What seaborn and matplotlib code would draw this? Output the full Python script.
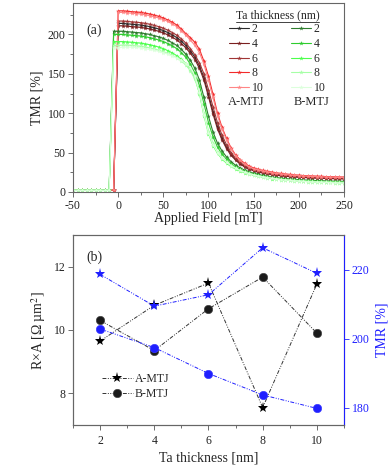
import numpy as np
import pandas as pd
import matplotlib
matplotlib.use("Agg")
import matplotlib.pyplot as plt
import seaborn as sns
from matplotlib.lines import Line2D
from matplotlib.ticker import MultipleLocator

# ---- panel (a): TMR vs applied field ----
field = list(range(-50, 255, 5))

tmr_a2 = [2.6, 2.5, 2.5, 2.4, 2.5, 2.6, 2.5, 2.4, 2.5, 2.5,
          214, 214, 213.5, 213, 212.5, 212, 211, 210, 208.5, 207,
          205, 202.5, 199.5, 196, 191.5, 186, 179, 171, 160, 145,
          124, 102, 83, 68, 57, 48, 41.5, 36.5, 32.5, 29.7,
          27.5, 25.9, 24.6, 23.5, 22.6, 21.8, 21.1, 20.5, 20.0, 19.6,
          19.2, 18.9, 18.6, 18.3, 18.1, 17.9, 17.7, 17.5, 17.4, 17.2, 17.1]
tmr_a4 = [2.5, 2.4, 2.5, 2.6, 2.5, 2.4, 2.5, 2.5, 2.6, 2.5,
          211, 211, 210.5, 210, 209.5, 209, 208, 207, 205.5, 204,
          202, 199.5, 196.5, 193, 188.5, 183, 176, 168, 157, 142,
          121, 99, 80, 66, 55, 46.5, 40.5, 35.5, 31.8, 29,
          27, 25.4, 24.1, 23, 22.1, 21.3, 20.6, 20, 19.5, 19.1,
          18.7, 18.4, 18.1, 17.8, 17.6, 17.4, 17.2, 17, 16.9, 16.7, 16.6]
tmr_a6 = [2.4, 2.5, 2.6, 2.5, 2.4, 2.5, 2.6, 2.5, 2.4, 2.5,
          217, 217, 216.5, 216, 215.5, 215, 214, 213, 211.5, 210,
          208, 205.5, 202.5, 199, 194.5, 189, 182, 174, 164, 150,
          130, 108, 88, 72, 60, 50, 43, 37.5, 33.5, 30.5,
          28.2, 26.6, 25.3, 24.2, 23.3, 22.5, 21.8, 21.2, 20.7, 20.2,
          19.8, 19.5, 19.2, 18.9, 18.7, 18.5, 18.3, 18.1, 17.9, 17.8, 17.6]
tmr_a8 = [2.5, 2.6, 2.5, 2.4, 2.5, 2.5, 2.6, 2.5, 2.4, 2.5,
          230, 230, 229.5, 229, 228.5, 228, 227, 226, 224.5, 223,
          221, 218.5, 215.5, 212, 207, 201, 196, 190, 181, 166,
          147, 124, 100, 82, 68, 56, 47, 41, 36.5, 33,
          30.5, 28.8, 27.4, 26.2, 25.2, 24.3, 23.5, 22.8, 22.2, 21.7,
          21.3, 20.9, 20.6, 20.3, 20.0, 19.8, 19.6, 19.4, 19.2, 19.0, 18.9]
tmr_a10 = [2.5, 2.5, 2.4, 2.5, 2.6, 2.5, 2.4, 2.5, 2.5, 2.6,
           228, 228, 227.5, 227, 226.5, 226, 225, 224, 222.5, 221,
           219, 216.5, 213.5, 210, 205, 199, 193, 186, 177, 162,
           142, 120, 97, 80, 66, 55, 46, 40, 35.5, 32,
           29.7, 28, 26.7, 25.5, 24.5, 23.6, 22.9, 22.2, 21.6, 21.1,
           20.7, 20.3, 20, 19.7, 19.4, 19.2, 19, 18.8, 18.6, 18.4, 18.3]

tmr_b2 = [2.2, 2.1, 2.2, 2.3, 2.2, 2.1, 2.2, 2.2, 2.3,
          204,
          204, 204, 203.5, 203, 202.5, 202, 201, 200, 198.5, 197,
          195, 192.5, 189.5, 186, 181, 175, 167, 157, 142, 120,
          96, 76, 62, 52, 44.5, 38.5, 34, 30.5, 27.8, 25.6,
          23.8, 22.3, 21, 19.9, 19, 18.2, 17.5, 16.9, 16.4, 16,
          15.6, 15.2, 14.9, 14.6, 14.4, 14.2, 14, 13.8, 13.6, 13.5, 13.4]
tmr_b4 = [2.1, 2.2, 2.3, 2.2, 2.1, 2.2, 2.3, 2.2, 2.1,
          200,
          200, 200, 199.5, 199, 198.5, 198, 197, 196, 194.5, 193,
          191, 188.5, 185.5, 182, 177, 171, 162, 151, 135, 112,
          88, 70, 57, 48, 41.5, 36, 32, 28.8, 26.2, 24.2,
          22.5, 21.1, 19.9, 18.9, 18, 17.2, 16.6, 16, 15.5, 15.1,
          14.7, 14.4, 14.1, 13.8, 13.6, 13.4, 13.2, 13, 12.8, 12.7, 12.6]
tmr_b6 = [2.3, 2.2, 2.1, 2.2, 2.3, 2.2, 2.1, 2.2, 2.2,
          191,
          191, 191, 190.5, 190, 189.5, 189, 188, 187, 185.5, 184,
          182, 179.5, 176.5, 173, 168.5, 163, 156, 145, 125, 97,
          74, 59, 49, 42, 36.5, 32.5, 29.2, 26.6, 24.5, 22.8,
          21.3, 20, 18.9, 17.9, 17.1, 16.4, 15.8, 15.2, 14.7, 14.3,
          13.9, 13.6, 13.3, 13, 12.8, 12.6, 12.4, 12.2, 12, 11.9, 11.8]
tmr_b8 = [2.2, 2.3, 2.2, 2.1, 2.2, 2.2, 2.3, 2.2, 2.1,
          186,
          186, 186.5, 186.5, 186, 185.5, 185, 184, 183, 181.5, 180,
          178, 176, 173.5, 170.5, 166.5, 161, 154, 143, 126, 100,
          78, 62, 51, 43.5, 38, 33.8, 30.4, 27.7, 25.5, 23.7,
          22.1, 20.8, 19.6, 18.6, 17.7, 17, 16.3, 15.7, 15.2, 14.8,
          14.4, 14, 13.7, 13.4, 13.2, 13, 12.8, 12.6, 12.4, 12.3, 12.2]
tmr_b10 = [2.2, 2.2, 2.1, 2.2, 2.3, 2.2, 2.2, 2.1, 2.2,
           183,
           183, 184, 184, 184, 183.5, 183, 182, 181, 180, 178.5,
           177, 175, 173, 170, 167, 163, 158, 147, 127, 98,
           75, 60, 50, 43, 37.5, 33.5, 30, 27.3, 25.1, 23.3,
           21.7, 20.4, 19.2, 18.2, 17.3, 16.5, 15.8, 15.2, 14.7, 14.2,
           13.8, 13.4, 13.1, 12.8, 12.5, 12.3, 12.1, 11.9, 11.7, 11.5, 11.4]

curve_names = ["A-2", "A-4", "A-6", "A-8", "A-10", "B-2", "B-4", "B-6", "B-8", "B-10"]
curve_values = [tmr_a2, tmr_a4, tmr_a6, tmr_a8, tmr_a10,
                tmr_b2, tmr_b4, tmr_b6, tmr_b8, tmr_b10]
curve_colors = ["#2b2b2b", "#7a1f1f", "#a03535", "#f22a2a", "#ff8585",
                "#2e7d2e", "#2ecc2e", "#4cff4c", "#a6ffa6", "#dcffdc"]
legend_labels = ["2", "4", "6", "8", "10", "2", "4", "6", "8", "10"]

# ---- panel (b): RxA and TMR vs Ta thickness ----
thickness = [2, 4, 6, 8, 10]
ra_a = [9.65, 10.78, 11.48, 7.55, 11.45]
ra_b = [10.30, 9.35, 10.67, 11.67, 9.90]
tmr_a = [218.6, 209.4, 212.7, 226.3, 218.9]
tmr_b = [202.8, 197.4, 189.9, 183.7, 179.8]

sns.set_style("ticks")
plt.rcParams["font.family"] = ["Liberation Serif", "DejaVu Serif"]
plt.rcParams["mathtext.fontset"] = "stix"
plt.rcParams["axes.unicode_minus"] = False
plt.rcParams["axes.edgecolor"] = "#666666"
plt.rcParams["xtick.color"] = "#555555"
plt.rcParams["ytick.color"] = "#555555"
plt.rcParams["xtick.labelcolor"] = "#222222"
plt.rcParams["ytick.labelcolor"] = "#222222"

fig = plt.figure(figsize=(3.91, 4.71), dpi=100)
ax = fig.add_axes([0.1867, 0.5924, 0.693, 0.4013])
axb = fig.add_axes([0.1867, 0.0977, 0.693, 0.4034])

frames = []
for name, vals in zip(curve_names, curve_values):
    frames.append(pd.DataFrame({"field": field, "tmr": vals, "curve": name}))
df = pd.concat(frames, ignore_index=True)

sns.lineplot(data=df, x="field", y="tmr", hue="curve", hue_order=curve_names,
             palette=dict(zip(curve_names, curve_colors)), estimator=None,
             sort=False, marker="*", markersize=3.5, markeredgewidth=0,
             linewidth=0.8, legend=False, ax=ax)

ax.set_xlim(-50, 250)
ax.set_ylim(0, 240)
ax.xaxis.set_major_locator(MultipleLocator(50))
ax.xaxis.set_minor_locator(MultipleLocator(25))
ax.yaxis.set_major_locator(MultipleLocator(50))
ax.yaxis.set_minor_locator(MultipleLocator(25))
ax.tick_params(which="major", length=3.5, width=0.6, labelsize=8.5, pad=2)
ax.tick_params(which="minor", length=2, width=0.6)
ax.set_xlabel("Applied Field [mT]", fontsize=10, labelpad=0)
ax.set_ylabel("TMR [%]", fontsize=10, labelpad=3)
for sp in ax.spines.values():
    sp.set_linewidth(0.8)
ax.text(0.048, 0.857, "(a)", transform=ax.transAxes, fontsize=10, va="center")

handles = ax.get_lines()[:10]
leg = ax.legend(handles=handles, labels=legend_labels, ncol=2,
                title="Ta thickness (nm)", frameon=False, fontsize=8.5,
                title_fontsize=8.5, loc="upper right",
                bbox_to_anchor=(0.955, 1.0), borderpad=0,
                handlelength=1.7, handletextpad=0.25, columnspacing=2.3,
                labelspacing=0.22, markerscale=1.0)
ax.text(0.640, 0.476, "A-MTJ", transform=ax.transAxes, fontsize=9,
        ha="center", va="center")
ax.text(0.882, 0.476, "B-MTJ", transform=ax.transAxes, fontsize=9,
        ha="center", va="center")

# bottom panel
dash = (0, (4, 1.5, 1, 1.5, 1, 1.5))
blue = "#1f1fff"
sns.lineplot(x=thickness, y=ra_a, ax=axb, color="#333333", linewidth=0.7,
             linestyle=dash, marker="*", markersize=8, markeredgewidth=0,
             markerfacecolor="black")
sns.lineplot(x=thickness, y=ra_b, ax=axb, color="#333333", linewidth=0.7,
             linestyle=dash, marker="o", markersize=6, markeredgewidth=0.5,
             markerfacecolor="#1a1a1a", markeredgecolor="#444444")
axb.set_xlim(1, 11)
axb.set_ylim(7, 13)
axb.xaxis.set_major_locator(MultipleLocator(2))
axb.xaxis.set_minor_locator(MultipleLocator(1))
axb.yaxis.set_major_locator(MultipleLocator(2))
axb.tick_params(which="major", length=3.5, width=0.6, labelsize=8.5, pad=2)
axb.tick_params(which="minor", length=2, width=0.6)
axb.tick_params(axis="x", pad=4)
axb.set_xlabel("Ta thickness [nm]", fontsize=10, labelpad=3)
axb.set_ylabel("R×A [Ω µm$^2$]", fontsize=10, labelpad=4)
axb.text(0.048, 0.884, "(b)", transform=axb.transAxes, fontsize=10, va="center")

ax2 = axb.twinx()
sns.lineplot(x=thickness, y=tmr_a, ax=ax2, color=blue, linewidth=0.7,
             linestyle=dash, marker="*", markersize=8, markeredgewidth=0,
             markerfacecolor=blue)
sns.lineplot(x=thickness, y=tmr_b, ax=ax2, color=blue, linewidth=0.7,
             linestyle=dash, marker="o", markersize=6, markeredgewidth=0.5,
             markerfacecolor=blue, markeredgecolor="#3a3aff")
ax2.set_ylim(175, 230)
ax2.yaxis.set_major_locator(MultipleLocator(20))
ax2.tick_params(axis="y", colors=blue, labelcolor=blue, length=3.5, width=0.6,
                labelsize=8.5, pad=2)
ax2.set_ylabel("TMR [%]", fontsize=10, color=blue, labelpad=4)
for sp in list(axb.spines.values()) + list(ax2.spines.values()):
    sp.set_linewidth(0.8)
ax2.spines["right"].set_color(blue)

hb = [Line2D([], [], color="#333333", linewidth=0.7, linestyle=dash,
             marker="*", markersize=8, markeredgewidth=0, markerfacecolor="black"),
      Line2D([], [], color="#333333", linewidth=0.7, linestyle=dash,
             marker="o", markersize=6, markerfacecolor="#1a1a1a",
             markeredgecolor="#444444", markeredgewidth=0.5)]
axb.legend(handles=hb, labels=["A-MTJ", "B-MTJ"], frameon=False, fontsize=8.5,
           loc="lower left", bbox_to_anchor=(0.085, 0.1), borderpad=0,
           handlelength=2.6, handletextpad=0.2, labelspacing=0.25)

# underline the legend title of panel (a)
fig.canvas.draw()
bb = leg.get_title().get_window_extent().transformed(fig.transFigure.inverted())
fig.add_artist(Line2D([bb.x0, bb.x1], [bb.y0 - 0.002, bb.y0 - 0.002],
                      color="#222222", linewidth=0.6,
                      transform=fig.transFigure))

fig.savefig("out.png", dpi=100)
